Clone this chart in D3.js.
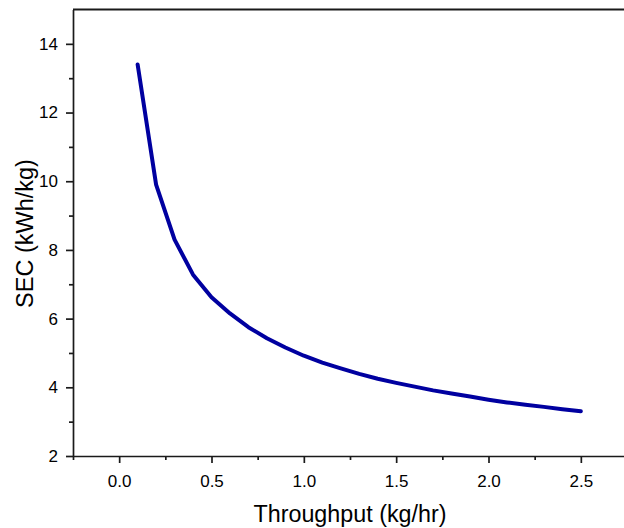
<!DOCTYPE html>
<html>
<head>
<meta charset="utf-8">
<script src="https://cdn.jsdelivr.net/npm/d3@7"></script>
<style>
body { margin: 0; background: #fff; }
svg text { font-family: "Liberation Sans", Arial, sans-serif; fill: #000; }
</style>
</head>
<body>
<script>
// throughput (kg/hr) and specific energy consumption (kWh/kg)
const throughput = [0.1, 0.2, 0.3, 0.4, 0.5, 0.6, 0.7, 0.8, 0.9, 1.0, 1.1, 1.2, 1.3,
    1.4, 1.5, 1.6, 1.7, 1.8, 1.9, 2.0, 2.1, 2.2, 2.3, 2.4, 2.5];
const sec = [13.4, 9.9, 8.3, 7.28, 6.62, 6.15, 5.75, 5.43, 5.16, 4.92, 4.72, 4.55, 4.39,
    4.25, 4.13, 4.02, 3.91, 3.82, 3.73, 3.64, 3.56, 3.49, 3.43, 3.36, 3.30];
const xTicks = [0.0, 0.5, 1.0, 1.5, 2.0, 2.5];
const yTicks = [2, 4, 6, 8, 10, 12, 14];

let width = 624, height = 528;
let plotLeft = 73, plotRight = 627, plotTop = 9.5, plotBottom = 456;

let svg = d3.select("body").append("svg")
    .attr("width", width)
    .attr("height", height);

let xScale = d3.scaleLinear().domain([-0.25, 2.75]).range([plotLeft, plotRight]);
let yScale = d3.scaleLinear().domain([2, 15]).range([plotBottom, plotTop]);

//minor ticks sit halfway between the major ones
let xMinor = d3.range(-0.25, 2.76, 0.5);
let yMinor = d3.range(3, 15, 2);

svg.append("g")
    .attr("transform", "translate(0," + plotBottom + ")")
    .call(d3.axisBottom(xScale).tickValues(xTicks).tickFormat(d3.format(".1f"))
        .tickSizeInner(7).tickSizeOuter(0).tickPadding(12));
svg.append("g")
    .attr("transform", "translate(" + plotLeft + ",0)")
    .call(d3.axisLeft(yScale).tickValues(yTicks).tickFormat(d3.format("d"))
        .tickSizeInner(7).tickSizeOuter(0).tickPadding(8));

svg.append("g")
    .attr("transform", "translate(0," + plotBottom + ")")
    .call(d3.axisBottom(xScale).tickValues(xMinor).tickFormat("").tickSize(4).tickSizeOuter(0))
    .select(".domain").remove();
svg.append("g")
    .attr("transform", "translate(" + plotLeft + ",0)")
    .call(d3.axisLeft(yScale).tickValues(yMinor).tickFormat("").tickSize(4).tickSizeOuter(0))
    .select(".domain").remove();

svg.selectAll(".domain, .tick line")
    .attr("stroke", "#1a1a1a")
    .attr("stroke-width", 1.7);
svg.selectAll("g").attr("font-size", null).attr("font-family", null);
svg.selectAll(".tick text").style("font-size", "17px");

//top border of the frame
svg.append("line")
    .attr("x1", plotLeft).attr("x2", plotRight)
    .attr("y1", plotTop).attr("y2", plotTop)
    .attr("stroke", "#1a1a1a")
    .attr("stroke-width", 2);

let line = d3.line()
    .x((d, i) => xScale(throughput[i]))
    .y(d => yScale(d));

svg.append("path")
    .datum(sec)
    .attr("d", line)
    .attr("fill", "none")
    .attr("stroke", "#0000a0")
    .attr("stroke-width", 4)
    .attr("stroke-linejoin", "round")
    .attr("stroke-linecap", "round");

svg.append("text")
    .attr("x", 350)
    .attr("y", 522)
    .attr("text-anchor", "middle")
    .style("font-size", "23.3px")
    .text("Throughput (kg/hr)");

svg.append("text")
    .attr("transform", "translate(33,233.5) rotate(-90)")
    .attr("text-anchor", "middle")
    .style("font-size", "23.5px")
    .text("SEC (kWh/kg)");
</script>
</body>
</html>
